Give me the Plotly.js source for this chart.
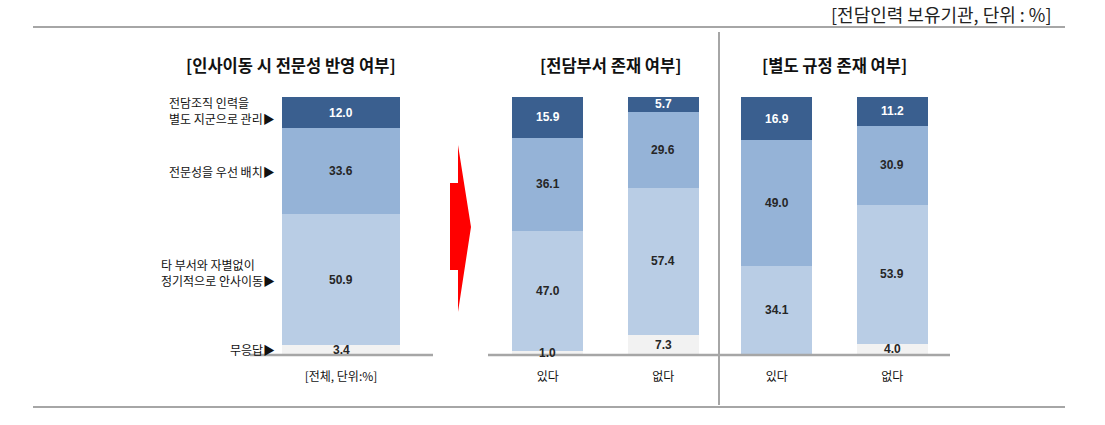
<!DOCTYPE html>
<html>
<head>
<meta charset="utf-8">
<script src="https://cdn.plot.ly/plotly-3.0.1.min.js"></script>
<style>
  html, body { margin: 0; padding: 0; background: #ffffff; }
  #chart { width: 1105px; height: 425px; }
</style>
</head>
<body>
<div id="chart"></div>
<script>
// ---- data ----
const panelTitles = ["[인사이동 시 전문성 반영 여부]", "[전담부서 존재 여부]", "[별도 규정 존재 여부]"];
const unitNote = "[전담인력 보유기관, 단위 : %]";
// segment names, top to bottom of the stack
const segmentNames = ["전담조직 인력을<br>별도 지군으로 관리▶", "전문성을 우선 배치▶", "타 부서와 자별없이<br>정기적으로 안사이동▶", "무응답▶"];

const totalCats = ["[전체, 단위:%]"];
const totalDark = [12.0];
const totalMid = [33.6];
const totalLight = [50.9];
const totalNone = [3.4];

const deptCats = ["있다", "없다"];
const deptDark = [15.9, 5.7];
const deptMid = [36.1, 29.6];
const deptLight = [47.0, 57.4];
const deptNone = [1.0, 7.3];

const ruleCats = ["있다", "없다"];
const ruleDark = [16.9, 11.2];
const ruleMid = [49.0, 30.9];
const ruleLight = [34.1, 53.9];
const ruleNone = [null, 4.0];

// ---- styles ----
const W = 1105, H = 425;
const px = x => x / W;
const py = y => 1 - y / H;
const segColors = { dark: "#3a5f8f", mid: "#95b3d7", light: "#b9cde5", none: "#f2f2f2" };
const segTextColors = { dark: "#ffffff", mid: "#262626", light: "#262626", none: "#262626" };
const numFont = "Liberation Sans, Arial, sans-serif";
const krFont = "Noto Sans CJK KR, sans-serif";
const order = ["none", "light", "mid", "dark"]; // bottom to top

const panels = [
  { axis: "x", cats: totalCats, width: 0.637, segs: { none: totalNone, light: totalLight, mid: totalMid, dark: totalDark } },
  { axis: "x2", cats: deptCats, width: 0.615, segs: { none: deptNone, light: deptLight, mid: deptMid, dark: deptDark } },
  { axis: "x3", cats: ruleCats, width: 0.615, segs: { none: ruleNone, light: ruleLight, mid: ruleMid, dark: ruleDark } }
];

const traces = [];
const annotations = [];
panels.forEach(p => {
  const base = p.cats.map(() => 0);
  order.forEach(k => {
    const vals = p.segs[k];
    traces.push({
      type: "bar",
      x: p.cats,
      y: vals,
      xaxis: p.axis,
      yaxis: "y",
      width: p.cats.map(() => p.width),
      marker: { color: segColors[k], line: { width: 0 } },
      hoverinfo: "skip",
      showlegend: false
    });
    vals.forEach((v, i) => {
      if (v == null) return;
      annotations.push({
        text: "<b>" + v.toFixed(1) + "</b>",
        xref: p.axis, yref: "y", x: p.cats[i], y: base[i] + v / 2,
        xanchor: "center", yanchor: "middle", showarrow: false,
        font: { family: numFont, size: 12, color: segTextColors[k] }
      });
      base[i] += v;
    });
  });
});

// label positions along the left bar: midpoints of each segment
const leftStack = [totalDark[0], totalMid[0], totalLight[0], totalNone[0]]; // top to bottom
const mids = [];
let acc = leftStack.reduce((a, b) => a + b, 0);
leftStack.forEach(v => { mids.push(acc - v / 2); acc -= v; });
const labelShift = [2, 0, 7, 0];

segmentNames.forEach((name, i) => {
  annotations.push({
    text: name, xref: "paper", yref: "y", x: px(277), y: mids[i],
    xanchor: "right", yanchor: "middle", align: "left", showarrow: false, yshift: labelShift[i],
    font: { family: krFont, size: 12, color: "#111111" }
  });
});
const titleX = [291, 610, 834];
panelTitles.forEach((t, i) => {
  annotations.push({
    text: "<b>" + t + "</b>", xref: "paper", yref: "paper", x: px(titleX[i]), y: py(65),
    xanchor: "center", yanchor: "middle", showarrow: false,
    font: { family: krFont, size: 16.5, color: "#111111" }
  });
});
annotations.push({
  text: unitNote, xref: "paper", yref: "paper", x: px(1053), y: py(14),
  xanchor: "right", yanchor: "middle", showarrow: false,
  font: { family: krFont, size: 18, color: "#222222" }
});

const lineColor = "#a6a6a6";
const shapes = [
  { type: "line", xref: "paper", yref: "paper", x0: px(33), x1: px(1065), y0: py(27), y1: py(27), line: { color: lineColor, width: 2 } },
  { type: "line", xref: "paper", yref: "paper", x0: px(33), x1: px(1065), y0: py(407), y1: py(407), line: { color: lineColor, width: 2 } },
  { type: "line", xref: "paper", yref: "paper", x0: px(719), x1: px(719), y0: py(32), y1: py(405), line: { color: lineColor, width: 2 } },
  { type: "line", xref: "paper", yref: "paper", x0: px(250), x1: px(433), y0: py(355), y1: py(355), line: { color: lineColor, width: 2.5 } },
  { type: "line", xref: "paper", yref: "paper", x0: px(488), x1: px(950), y0: py(355), y1: py(355), line: { color: lineColor, width: 2.5 } },
  {
    type: "path", xref: "paper", yref: "paper",
    path: "M " + px(450) + " " + py(183) + " L " + px(458) + " " + py(183) + " L " + px(458) + " " + py(145) +
          " L " + px(471) + " " + py(227) + " L " + px(458) + " " + py(312) + " L " + px(458) + " " + py(270) +
          " L " + px(450) + " " + py(270) + " Z",
    fillcolor: "#ff0000", line: { width: 0 }
  }
];

const xBase = {
  type: "category", showgrid: false, zeroline: false, showline: false, ticks: "",
  ticklabelstandoff: 14, anchor: "y", fixedrange: true,
  tickfont: { family: krFont, size: 12, color: "#111111" }
};

const layout = {
  width: W, height: H,
  margin: { l: 0, r: 0, t: 0, b: 0 },
  paper_bgcolor: "#ffffff", plot_bgcolor: "#ffffff",
  barmode: "stack",
  bargap: 0,
  xaxis: Object.assign({}, xBase, { domain: [px(249), px(433)], range: [-0.5, 0.5] }),
  xaxis2: Object.assign({}, xBase, { domain: [px(490), px(721)], range: [-0.5, 1.5] }),
  xaxis3: Object.assign({}, xBase, { domain: [px(719), px(950)], range: [-0.5, 1.5] }),
  yaxis: { domain: [py(354), py(97)], range: [0, 100], visible: false, fixedrange: true },
  annotations: annotations,
  shapes: shapes,
  showlegend: false
};

Plotly.newPlot("chart", traces, layout, { staticPlot: true, displayModeBar: false });
</script>
</body>
</html>
